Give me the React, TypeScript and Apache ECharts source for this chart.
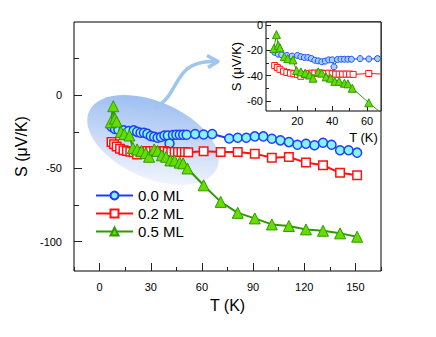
import React, { useEffect, useRef } from "react";
import * as echarts from "echarts";

// ---- data ----
const blueT = [7, 9, 11, 14, 17, 20, 22, 24, 26, 28, 30, 32, 34, 36, 38, 40, 41, 43, 45, 47, 49, 51, 56, 61, 66, 76, 81, 86, 91, 96, 101, 106, 111, 116, 121, 126, 131, 136, 141, 146, 151];
const blueS = [-21.5, -23, -23.5, -24, -24.5, -24, -25, -25.6, -25.6, -26.4, -27.8, -28.3, -29, -28.5, -27.5, -27.5, -33, -27.2, -27, -27, -27, -27, -26.5, -26.8, -26.5, -29.5, -29, -29, -28.1, -28.1, -29.7, -30.8, -32, -33.8, -33.1, -34.2, -32.4, -33.8, -37.6, -37.6, -39.2];

const redT = [7, 8.5, 10, 12, 14, 16, 18, 20, 22, 24, 26, 28, 30, 32, 34, 36, 38, 40, 42, 44, 46, 48, 50, 52, 61, 71, 81, 91, 101, 111, 121, 131, 141, 151];
const redS = [-32, -33.5, -35, -36.5, -37.5, -38, -38.5, -39, -40.5, -39, -38.5, -38, -38, -38, -38, -38.5, -38, -38.5, -38.8, -38.8, -38.8, -38.8, -38.8, -39, -38.3, -38.8, -38.8, -40, -42.6, -42.2, -46, -47.8, -53, -54.6];

const greenT = [6.5, 8, 9, 10, 12.5, 14.5, 17.5, 19.5, 22, 24.5, 27, 29, 32, 34, 36.5, 39, 41.5, 44, 47, 49, 51.5, 61, 71, 81, 91, 101, 111, 121, 131, 141, 151];
const greenS = [-18.5, -7.5, -16, -18, -25, -26.5, -27.5, -36, -37, -38, -39.5, -42, -37, -38, -41, -42, -44.5, -44.5, -46, -46.5, -50, -61.5, -72.8, -80.3, -84.1, -88.2, -89.3, -91.6, -92.5, -94.3, -96.6];

const seriesNames = ["0.0 ML", "0.2 ML", "0.5 ML"];

const mainYLabels = [-100, -50, 0];
const mainYMinor = [-75, -25, 25];
const insetXLabels = [20, 40, 60];
const insetXMinor = [10, 30, 50];
const insetYLabels = [-60, -40, -20, 0];
const insetYMinor = [-50, -30, -10];

const FONT = "Liberation Sans, Arial, sans-serif";

const zip = (a: number[], b: number[]) => a.map((v, i) => [v, b[i]]);

export default function App() {
  const mainRef = useRef<HTMLDivElement>(null);
  const insetRef = useRef<HTMLDivElement>(null);
  useEffect(() => {
    document.body.style.margin = "0";
    if (!mainRef.current || !insetRef.current) return;
    const main = echarts.init(mainRef.current, undefined, { renderer: "svg" });
    const inset = echarts.init(insetRef.current, undefined, { renderer: "svg" });

    const nameStyle = (fs: number, pad?: number[]) => ({ fontFamily: FONT, fontSize: fs, color: "#000", padding: pad || [0, 0, 0, 0] });

    // ---------------- main chart ----------------
    const mainSeries = (name: string, data: number[][], color: string, symbol: string, size: number, fill: string, bw: number) => ({
      type: "line", name, data, symbol, symbolSize: size,
      lineStyle: { color, width: 2 },
      itemStyle: { color: fill, borderColor: color, borderWidth: bw },
    });

    main.setOption({
      animation: false,
      grid: [{ left: 74, top: 22, width: 307, height: 249, show: true, borderColor: "#000", borderWidth: 1 }],
      xAxis: [
        { type: "value", min: -15, max: 165, interval: 15, position: "bottom", splitLine: { show: false },
          axisLine: { show: false, onZero: false },
          name: "T (K)", nameLocation: "middle", nameGap: 26, nameTextStyle: nameStyle(16),
          axisTick: { show: false },
          axisLabel: { fontFamily: FONT, fontSize: 11, color: "#000", margin: 10, formatter: (v: number) => (v % 30 === 0 ? String(v) : "") } },
        { type: "value", min: -15, max: 165, interval: 30, position: "bottom", splitLine: { show: false },
          axisLine: { show: false, onZero: false },
          axisTick: { show: true, inside: true, length: 4, lineStyle: { color: "#222" } },
          minorTick: { show: true, splitNumber: 2, length: 8, lineStyle: { color: "#222" } },
          axisLabel: { show: false } },
      ],
      yAxis: [
        { type: "value", min: -120, max: 50, position: "left", splitLine: { show: false },
          axisLine: { show: false, onZero: false },
          name: "S (\u03bcV/K)", nameLocation: "middle", nameGap: 36, nameTextStyle: nameStyle(16),
          axisTick: { show: true, inside: true, length: 8, customValues: mainYLabels, lineStyle: { color: "#222" } },
          axisLabel: { customValues: mainYLabels, fontFamily: FONT, fontSize: 11, color: "#000", margin: 12 } },
        { type: "value", min: -120, max: 50, position: "left", splitLine: { show: false },
          axisLine: { show: false, onZero: false },
          axisTick: { show: true, inside: true, length: 5, customValues: mainYMinor, lineStyle: { color: "#222" } },
          axisLabel: { show: false } },
      ],
      legend: {
        orient: "vertical",
        left: 90,
        top: 183,
        itemWidth: 37,
        itemHeight: 10,
        itemGap: 3,
        data: seriesNames,
        textStyle: { fontFamily: FONT, fontSize: 15, color: "#000" },
        selectedMode: false,
      },
      series: [
        mainSeries(seriesNames[0], zip(blueT, blueS), "#1f3cff", "circle", 9, "#86f3ee", 1.5),
        mainSeries(seriesNames[1], zip(redT, redS), "#ff1111", "rect", 8.5, "#ffffff", 1.5),
        mainSeries(seriesNames[2], zip(greenT, greenS), "#2f9a00", "triangle", 11, "#66dd00", 1),
      ],
      graphic: [
        {
          type: "ellipse", x: 153, y: 140, rotation: -0.42,
          shape: { cx: 0, cy: 0, rx: 70, ry: 38 },
          style: {
            fill: new echarts.graphic.LinearGradient(0, 0, 0.6, 1, [
              { offset: 0, color: "#8fb5ef" },
              { offset: 1, color: "#eef3fd" },
            ]),
          },
          z: -1, silent: true,
        },
        {
          type: "bezierCurve",
          shape: { x1: 155, y1: 107, cpx1: 180, cpy1: 97, cpx2: 172, cpy2: 60, x2: 214, y2: 61.5 },
          style: { stroke: "#9fc6ee", lineWidth: 3.5, fill: null },
          z: -1, silent: true,
        },
        {
          type: "polyline",
          shape: { points: [[207, 55.5], [218, 61.5], [208, 67.5]] },
          style: { stroke: "#9fc6ee", lineWidth: 3.5, fill: null, lineJoin: "round" },
          z: -1, silent: true,
        },
      ],
    } as any);

    // ---------------- inset chart ----------------
    const insetSeries = (data: number[][], color: string, symbol: string, size: number, fill: string) => ({
      type: "line", data, symbol, symbolSize: size, clip: true,
      lineStyle: { color, width: 1 },
      itemStyle: { color: fill, borderColor: color, borderWidth: 1 },
    });

    inset.setOption({
      animation: false,
      grid: [{ left: 66, top: 22, width: 115, height: 89, show: true, borderColor: "#000", borderWidth: 1, backgroundColor: "#fff" }],
      xAxis: [
        { type: "value", min: 2, max: 68, position: "bottom", splitLine: { show: false },
          axisLine: { show: false, onZero: false },
          name: "T (K)", nameLocation: "middle", nameGap: 15, nameTextStyle: nameStyle(13, [0, 0, 0, 80]),
          axisTick: { show: true, inside: true, length: 5, customValues: insetXLabels, lineStyle: { color: "#222" } },
          axisLabel: { customValues: insetXLabels, fontFamily: FONT, fontSize: 11, color: "#000", margin: 4 } },
        { type: "value", min: 2, max: 68, position: "bottom", splitLine: { show: false },
          axisLine: { show: false, onZero: false },
          axisTick: { show: true, inside: true, length: 3, customValues: insetXMinor, lineStyle: { color: "#222" } },
          axisLabel: { show: false } },
      ],
      yAxis: [
        { type: "value", min: -68, max: 2.5, position: "left", splitLine: { show: false },
          axisLine: { show: false, onZero: false },
          name: "S (\u03bcV/K)", nameLocation: "middle", nameGap: 15, nameTextStyle: nameStyle(13),
          axisTick: { show: true, inside: true, length: 5, customValues: insetYLabels, lineStyle: { color: "#222" } },
          axisLabel: { customValues: insetYLabels, fontFamily: FONT, fontSize: 11, color: "#000", margin: 3 } },
        { type: "value", min: -68, max: 2.5, position: "left", splitLine: { show: false },
          axisLine: { show: false, onZero: false },
          axisTick: { show: true, inside: true, length: 3, customValues: insetYMinor, lineStyle: { color: "#222" } },
          axisLabel: { show: false } },
      ],
      series: [
        insetSeries(zip(blueT, blueS), "#2244ff", "circle", 6, "#9fd3ff"),
        insetSeries(zip(redT, redS), "#ff1111", "rect", 6, "#ffffff"),
        insetSeries(zip(greenT, greenS), "#2f9a00", "triangle", 8, "#66dd00"),
      ],
    } as any);

    return () => {
      main.dispose();
      inset.dispose();
    };
  }, []);
  return (
    <div style={{ position: "relative", width: 436, height: 337 }}>
      <div ref={mainRef} style={{ position: "absolute", left: 0, top: 0, width: 436, height: 337 }} />
      <div ref={insetRef} style={{ position: "absolute", left: 200, top: 0, width: 236, height: 150, pointerEvents: "none" }} />
    </div>
  );
}
